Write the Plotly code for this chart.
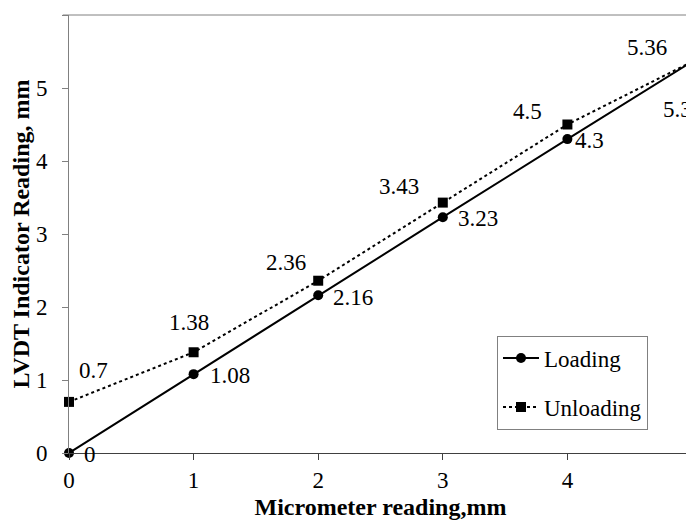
import plotly.graph_objects as go

micrometer = [0, 1, 2, 3, 4, 5]
loading = [0, 1.08, 2.16, 3.23, 4.3, 5.36]
unloading = [0.7, 1.38, 2.36, 3.43, 4.5, 5.36]
y_ticks = [0, 1, 2, 3, 4, 5, 6]
x_ticks = [0, 1, 2, 3, 4, 5]

FONT = "Liberation Serif, Times New Roman, serif"

# label offsets (pixels) — style only
load_dx = [13, 14, 13, 13, 6, -31]
load_dy = [-1, -1, -2, -1, -1, -48]
unload_dx = [24, -5, -32, -44, -40, -45]
unload_dy = [31, 30, 18, 16, 13, 14]

fig = go.Figure()
fig.add_trace(go.Scatter(
    x=micrometer, y=loading, name="Loading", mode="lines+markers",
    line=dict(color="black", width=2),
    marker=dict(symbol="circle", size=10, color="black"),
    legendgroup="a", cliponaxis=False,
))
fig.add_trace(go.Scatter(
    x=micrometer, y=unloading, name="Unloading", mode="lines+markers",
    line=dict(color="black", width=2, dash="dot"),
    marker=dict(symbol="square", size=10, color="black"),
    legendgroup="b", cliponaxis=False,
))

annotations = []
for xv, yv, dx, dy in zip(micrometer, loading, load_dx, load_dy):
    annotations.append(dict(x=xv, y=yv, text=f"{yv:g}", showarrow=False,
                            xanchor="left", yanchor="middle", xshift=dx, yshift=dy,
                            font=dict(family=FONT, size=23, color="black")))
for xv, yv, dx, dy in zip(micrometer, unloading, unload_dx, unload_dy):
    annotations.append(dict(x=xv, y=yv, text=f"{yv:g}", showarrow=False,
                            xanchor="center", yanchor="middle", xshift=dx, yshift=dy,
                            font=dict(family=FONT, size=23, color="black")))

# the page body adds an 8px offset; the figure compensates for it
fig.update_layout(
    width=686, height=515,
    margin=dict(l=61, r=2, t=7, b=70, autoexpand=False),
    paper_bgcolor="white", plot_bgcolor="white",
    font=dict(family=FONT, size=23, color="black"),
    showlegend=True,
    legend=dict(x=0.687, y=0.268, xanchor="left", yanchor="top",
                bgcolor="white", bordercolor="#808080", borderwidth=1,
                font=dict(family=FONT, size=23, color="black"),
                tracegroupgap=16, itemwidth=36,
                entrywidth=140, entrywidthmode="pixels"),
    annotations=annotations,
    xaxis=dict(range=[0, 5], tickvals=x_ticks, showgrid=False, zeroline=False,
               automargin=False,
               showline=True, linecolor="#404040", linewidth=1, mirror=False,
               ticks="outside", ticklen=6, tickcolor="#404040",
               tickfont=dict(family=FONT, size=23, color="black"),
               title=dict(text="Micrometer reading,mm", standoff=6,
                          font=dict(family=FONT, size=24, color="black", weight="bold"))),
    yaxis=dict(range=[0, 6], tickvals=y_ticks, showgrid=False, zeroline=False,
               automargin=False,
               showline=True, linecolor="#808080", linewidth=1,
               ticks="outside", ticklen=6, tickcolor="#808080",
               tickfont=dict(family=FONT, size=23, color="black"),
               ticklabelstandoff=10,
               title=dict(text="LVDT Indicator Reading, mm", standoff=6,
                          font=dict(family=FONT, size=24, color="black", weight="bold"))),
)
# top border of the plot area
fig.add_shape(type="line", xref="paper", yref="paper", x0=-0.01, x1=1, y0=1, y1=1,
              line=dict(color="#808080", width=1))

fig.write_html("out.html")
